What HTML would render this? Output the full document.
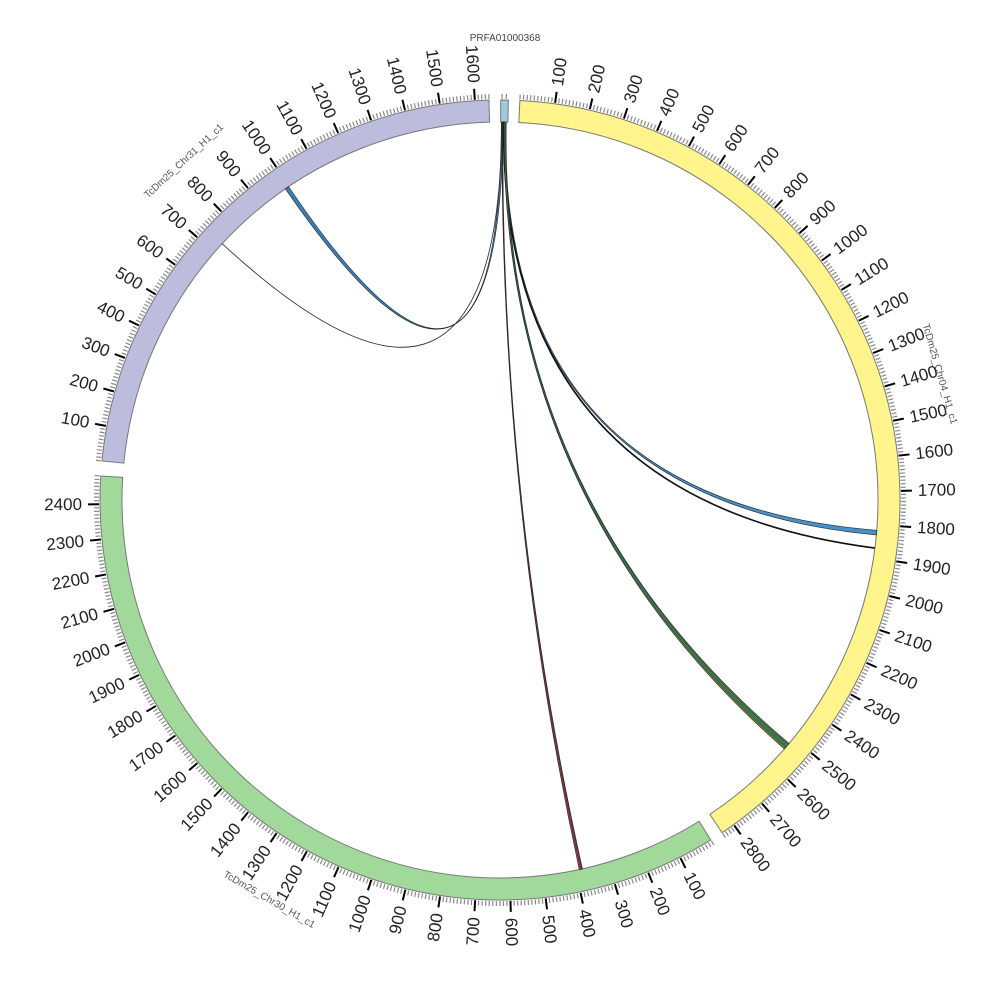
<!DOCTYPE html>
<html><head><meta charset="utf-8"><style>
html,body{margin:0;padding:0;background:#fff;}
svg{display:block;font-family:"Liberation Sans","DejaVu Sans",sans-serif;}
</style></head><body>
<svg id="s" width="1000" height="1000" viewBox="0 0 1000 1000" xmlns="http://www.w3.org/2000/svg"></svg>
<script>
const s=document.getElementById('s');const CX=500,CY=500,RO=400,RI=378;
const K=0.0505;
function P(a,r){const t=a*Math.PI/180;return [CX+r*Math.sin(t),CY-r*Math.cos(t)];}
let h='';
function seg(a1,a2,fill){const p1=P(a1,RO),p2=P(a2,RO),p3=P(a2,RI),p4=P(a1,RI);const lg=(a2-a1)>180?1:0;
h+=`<path d="M${p1} A${RO},${RO} 0 ${lg} 1 ${p2} L${p3} A${RI},${RI} 0 ${lg} 0 ${p4} Z" fill="${fill}" stroke="#777" stroke-width="1"/>`;}
function ticks(start,len,labels){
 for(let v=0;v<=len;v+=10){const a=start+v*K;const maj=v%100==0&&v>0;
  const p1=P(a,RO+1),p2=P(a,RO+(maj?12:6));
  h+=`<line x1="${p1[0]}" y1="${p1[1]}" x2="${p2[0]}" y2="${p2[1]}" stroke="${maj?'#000':'#888'}" stroke-width="${maj?2:1.2}"/>`;
  if(maj&&labels){const p=P(a,RO+18);let rot,anc;
   if(a<182){rot=a-90;anc='start';}else{rot=a-270;anc='end';}
   h+=`<text x="${p[0]}" y="${p[1]}" font-size="17" fill="#222" text-anchor="${anc}" dominant-baseline="central" transform="rotate(${rot} ${p[0]} ${p[1]})">${v}</text>`;}
 }}
seg(0.1,1.2,'#9ecae1');
seg(2.85,2.85+2840*K,'#fff58c');
seg(148.2,148.2+2480*K,'#a1d99b');
seg(275.6,275.6+1640*K,'#bcbddc');
for(let a of [0.3,0.9]){const p1=P(a,RO+1),p2=P(a,RO+6);h+=`<line x1="${p1[0]}" y1="${p1[1]}" x2="${p2[0]}" y2="${p2[1]}" stroke="#888" stroke-width="1.2"/>`;}
ticks(2.85,2840,true);ticks(148.2,2480,true);ticks(275.6,1640,true);
function rib(a1,a2,b1,b2,fill,sw){const s1=P(a1,RI),s2=P(a2,RI),t1=P(b1,RI),t2=P(b2,RI);
 h+=`<path d="M${s1} A${RI},${RI} 0 0 1 ${s2} Q${CX},${CY} ${t1} A${RI},${RI} 0 0 1 ${t2} Q${CX},${CY} ${s1} Z" fill="${fill}" stroke="#222" stroke-width="${sw||0.6}"/>`;}
function ln(a,b,c,w){const s1=P(a,RI),t1=P(b,RI);h+=`<path d="M${s1} Q${CX},${CY} ${t1}" fill="none" stroke="${c}" stroke-width="${w}"/>`;}
rib(0.2,0.5,325.4,326.0,'#3b7fb5');
ln(0.28,312.7,'#333',0.9);
rib(0.5,0.8,94.6,95.3,'#4a90c8');
ln(0.57,97.3,'#111',1.6);
rib(0.6,0.95,130.1,131.2,'#8a7a3a');
rib(0.65,0.85,130.3,130.9,'#2e7d5a',0.4);
rib(0.3,0.45,167.4,167.9,'#b34a2e');
rib(0.35,0.4,167.5,167.7,'#7a3a6a',0.3);
h+=`<text x="505" y="41" font-size="10" fill="#444" text-anchor="middle">PRFA01000368</text>`;
function cl(t,a,r){const p=P(a,r);let rot=a<180?a:a-180;if(a>270)rot=a-360;
 h+=`<text x="${p[0]}" y="${p[1]}" font-size="10" fill="#555" text-anchor="middle" dominant-baseline="central" transform="rotate(${rot} ${p[0]} ${p[1]})">${t}</text>`;}
cl('TcDm25_Chr04_H1_c1',74,457);cl('TcDm25_Chr30_H1_c1',210,462);cl('TcDm25_Chr31_H1_c1',317,463);
s.innerHTML=h;
</script>
</body></html>
